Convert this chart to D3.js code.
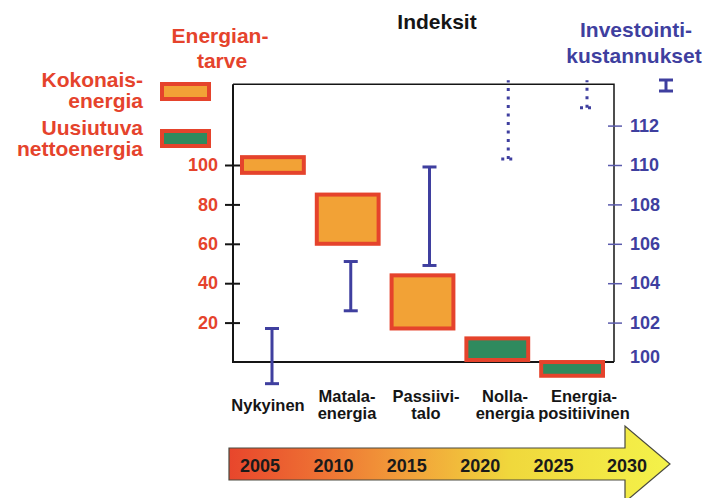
<!DOCTYPE html>
<html>
<head>
<meta charset="utf-8">
<script src="https://cdn.jsdelivr.net/npm/d3@7"></script>
<style>
  body { margin: 0; background: #fff; }
  svg { display: block; }
  text { font-family: "Liberation Sans", Arial, Helvetica, sans-serif; font-weight: bold; }
</style>
</head>
<body>
<svg id="chart" width="710" height="498"></svg>
<script>
// Building energy classes and their energy demand / investment cost indices
const categories = ["Nykyinen", "Matalaenergia", "Passiivitalo", "Nollaenergia", "Energiapositiivinen"];
const categoryLabels = [["Nykyinen"], ["Matala-", "energia"], ["Passiivi-", "talo"], ["Nolla-", "energia"], ["Energia-", "positiivinen"]];

// Energy demand index range (left axis)
const energyLow  = [95, 59, 16, 0, -8];
const energyHigh = [105, 86, 45, 13, 1];
const energyType = ["total", "total", "total", "renewable", "renewable"];

// Investment cost index range (right axis); open ranges continue upward
const costLow  = [98.9, 102.6, 104.9, 110.3, 112.9];
const costHigh = [101.7, 105.1, 109.9, 114.3, 114.3];
const costOpen = [false, false, false, true, true];

const energyTicks = [20, 40, 60, 80, 100];
const costTicks = [100, 102, 104, 106, 108, 110, 112];
const years = [2005, 2010, 2015, 2020, 2025, 2030];

const RED = "#e5432c", ORANGE = "#f2a236", GREEN = "#2f8a5e", BLUE = "#3f3f9f", INK = "#151515";

const svg = d3.select("#chart");

const yE = d3.scaleLinear().domain([0, 100]).range([362, 165]);
const yC = d3.scaleLinear().domain([100, 110]).range([362, 165]);
const xBar = d3.scaleBand().domain(categories).range([240, 605]).paddingInner(0.12);
const xCost = d3.scalePoint().domain(categories).range([272, 587]);
const xLabel = d3.scalePoint().domain(categories).range([268, 584]);
const xYear = d3.scalePoint().domain(years).range([260, 627]);

const frameLeft = 233, frameRight = 614, frameTop = yE(141), frameBottom = yE(0);

// Plot frame
svg.append("path")
  .attr("d", `M${frameLeft},${frameTop}H${frameRight}V${frameBottom}`)
  .attr("fill", "none").attr("stroke", INK).attr("stroke-width", 1.5);
svg.append("path")
  .attr("d", `M${frameLeft},${frameTop}V${frameBottom}H${frameRight}`)
  .attr("fill", "none").attr("stroke", INK).attr("stroke-width", 2);

// Left axis: energy demand
const axL = svg.append("g").attr("transform", `translate(${frameLeft},0)`)
  .call(d3.axisLeft(yE).tickValues(energyTicks).tickSize(8).tickPadding(15));
axL.select(".domain").remove();
axL.selectAll(".tick line").attr("x1", -8).attr("x2", 7).attr("stroke", INK).attr("stroke-width", 2);
axL.selectAll(".tick text").attr("fill", RED).attr("font-size", 18)
  .attr("font-family", null).attr("x", -15);

// Right axis: investment costs
const axR = svg.append("g").attr("transform", `translate(${frameRight},0)`)
  .call(d3.axisRight(yC).tickValues(costTicks).tickSize(8));
axR.select(".domain").remove();
axR.selectAll(".tick line").attr("x1", -6).attr("x2", 8).attr("stroke", "#5a5aac").attr("stroke-width", 1.5)
  .attr("opacity", d => d === 100 ? 0 : 1);
axR.selectAll(".tick text").attr("fill", BLUE).attr("font-size", 18)
  .attr("font-family", null).attr("x", 16)
  .attr("dy", d => d === 100 ? "0.05em" : "0.32em");

// Energy demand boxes
const rows = categories.map((c, i) => ({ c, i }));
svg.append("g").selectAll("rect").data(rows).join("rect")
  .attr("x", d => xBar(d.c) + 2)
  .attr("width", xBar.bandwidth() - 4)
  .attr("y", d => yE(energyHigh[d.i]) + 2)
  .attr("height", d => yE(energyLow[d.i]) - yE(energyHigh[d.i]) - 4)
  .attr("fill", d => energyType[d.i] === "total" ? ORANGE : GREEN)
  .attr("stroke", RED).attr("stroke-width", 4);

// Investment cost ranges
const cost = svg.append("g").attr("stroke", BLUE);
rows.forEach(d => {
  const x = xCost(d.c), y0 = yC(costLow[d.i]), y1 = yC(costHigh[d.i]);
  if (costOpen[d.i]) {
    cost.append("line").attr("x1", x).attr("x2", x).attr("y1", y0).attr("y2", y1)
      .attr("stroke-width", 3).attr("stroke-dasharray", "3,5.5");
    cost.append("line").attr("x1", x - 7).attr("x2", x + 6).attr("y1", y0).attr("y2", y0)
      .attr("stroke-width", 3).attr("stroke-dasharray", "3,5");
  } else {
    cost.append("line").attr("x1", x).attr("x2", x).attr("y1", y0).attr("y2", y1).attr("stroke-width", 3);
    [y0, y1].forEach(y => cost.append("line")
      .attr("x1", x - 7).attr("x2", x + 7).attr("y1", y).attr("y2", y).attr("stroke-width", 3));
  }
});

// Category labels
svg.append("g").selectAll("text").data(rows).join("text")
  .attr("text-anchor", "middle").attr("font-size", 16.5).attr("fill", INK)
  .each(function (d) {
    const lines = categoryLabels[d.i];
    const base = lines.length === 1 ? [411] : [402, 419];
    d3.select(this).selectAll("tspan").data(lines).join("tspan")
      .attr("x", xLabel(d.c)).attr("y", (t, k) => base[k]).text(t => t);
  });

// Headings
svg.append("text").attr("x", 437).attr("y", 29).attr("text-anchor", "middle")
  .attr("font-size", 21).attr("fill", INK).text("Indeksit");
const eh = svg.append("text").attr("text-anchor", "middle").attr("font-size", 21).attr("fill", RED);
eh.append("tspan").attr("x", 220).attr("y", 43).text("Energian-");
eh.append("tspan").attr("x", 222).attr("y", 68).text("tarve");
const ch = svg.append("text").attr("text-anchor", "middle").attr("font-size", 21).attr("fill", BLUE);
ch.append("tspan").attr("x", 636).attr("y", 37).text("Investointi-");
ch.append("tspan").attr("x", 634).attr("y", 63).text("kustannukset");

// Cost range legend symbol
const lg = svg.append("g").attr("stroke", BLUE).attr("stroke-width", 3);
lg.append("line").attr("x1", 666).attr("x2", 666).attr("y1", 80).attr("y2", 91);
lg.append("line").attr("x1", 659).attr("x2", 673).attr("y1", 80).attr("y2", 80);
lg.append("line").attr("x1", 659).attr("x2", 673).attr("y1", 91).attr("y2", 91);

// Energy legend
const legendItems = [
  { lines: ["Kokonais-", "energia"], base: [87, 108], fill: ORANGE, sy: 82 },
  { lines: ["Uusiutuva", "nettoenergia"], base: [135, 156], fill: GREEN, sy: 129 }
];
legendItems.forEach(it => {
  svg.append("rect").attr("x", 162).attr("y", it.sy + 2).attr("width", 47).attr("height", 15)
    .attr("fill", it.fill).attr("stroke", RED).attr("stroke-width", 4);
  const t = svg.append("text").attr("text-anchor", "end").attr("font-size", 21).attr("fill", RED);
  it.lines.forEach((s, k) => t.append("tspan").attr("x", 143).attr("y", it.base[k]).text(s));
});

// Timeline arrow
const defs = svg.append("defs");
const grad = defs.append("linearGradient").attr("id", "timeGrad")
  .attr("gradientUnits", "userSpaceOnUse").attr("x1", 229).attr("x2", 670).attr("y1", 0).attr("y2", 0);
[[0, "#e8462c"], [0.22, "#ee7434"], [0.42, "#f2a43a"], [0.64, "#f0d83c"], [1, "#f4f24a"]]
  .forEach(([o, c]) => grad.append("stop").attr("offset", o).attr("stop-color", c));
svg.append("path")
  .attr("d", "M229,448H625V426L670,464L625,502V480H229Z")
  .attr("fill", "url(#timeGrad)").attr("stroke", "#4a4a40").attr("stroke-width", 1.2);
svg.append("g").selectAll("text").data(years).join("text")
  .attr("x", d => xYear(d)).attr("y", 472).attr("text-anchor", "middle")
  .attr("font-size", 18).attr("fill", "#1a1a1a").text(d => d);
</script>
</body>
</html>
